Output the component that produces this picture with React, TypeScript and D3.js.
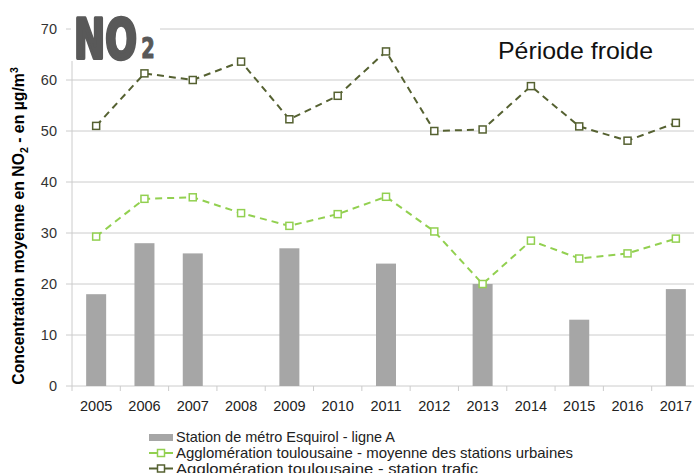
import React from "react";
import * as d3 from "d3";

const years = ["2005","2006","2007","2008","2009","2010","2011","2012","2013","2014","2015","2016","2017"];
const metroValues: (number | null)[] = [18, 28, 26, null, 27, null, 24, null, 20, null, 13, null, 19];
const urbanValues = [29.3, 36.7, 37, 33.9, 31.4, 33.7, 37.1, 30.3, 20, 28.5, 25, 26, 28.9];
const trafficValues = [51, 61.3, 60, 63.6, 52.3, 56.9, 65.6, 50, 50.3, 58.8, 50.9, 48.1, 51.6];
const yTicks = [0, 10, 20, 30, 40, 50, 60, 70];
const legendLabels = [
  "Station de métro Esquirol - ligne A",
  "Agglomération toulousaine - moyenne des stations urbaines",
  "Agglomération toulousaine - station trafic",
];

const W = 694, H = 473;
const BAR = "#a6a6a6", URBAN = "#92d050", TRAFFIC = "#556131", GRID = "#cccccc";
const FONT = "'Liberation Sans', Arial, sans-serif";
const LOGO_FONT = "'DejaVu Sans Condensed', 'Liberation Sans', sans-serif";

export default function App() {
  const x = d3.scaleBand<string>().domain(years).range([72, 700]).padding(0);
  const y = d3.scaleLinear().domain([0, 70]).range([386, 29]);
  const cx = (d: string) => (x(d) as number) + x.bandwidth() / 2;
  const barW = 20;

  const line = d3.line<number>().x((_, i) => cx(years[i])).y((v) => y(v));

  const marker = (px: number, py: number, color: string, key: string) => (
    <rect key={key} x={px - 3.5} y={py - 3.5} width={7} height={7} fill="#fff" stroke={color} strokeWidth={1.5} />
  );

  return (
    <svg width={W} height={H} style={{ position: "absolute", left: 0, top: 0, background: "#fff" }} fontFamily={FONT}>
      <rect x={0} y={0} width={W} height={H} fill="#fff" />
      {/* gridlines */}
      {yTicks.map((t) => (
        <g key={t}>
          {t > 0 && <line x1={66} x2={W} y1={y(t)} y2={y(t)} stroke={GRID} strokeWidth={1} />}
          <text x={57} y={y(t)} dy="0.35em" textAnchor="end" fontSize={14.5} fill="#333">{t}</text>
        </g>
      ))}
      {/* axes */}
      <line x1={72} x2={72} y1={29} y2={386} stroke={GRID} />
      <line x1={66} x2={W} y1={386} y2={386} stroke={GRID} />
      {years.map((yr) => (
        <line key={"t" + yr} x1={x(yr) as number} x2={x(yr) as number} y1={386} y2={391} stroke={GRID} />
      ))}
      <line x1={700} x2={700} y1={386} y2={391} stroke={GRID} />
      {years.map((yr) => (
        <text key={"l" + yr} x={cx(yr)} y={411} textAnchor="middle" fontSize={14.5} fill="#222">{yr}</text>
      ))}
      {/* bars */}
      {metroValues.map((v, i) =>
        v == null ? null : (
          <rect key={"b" + i} x={cx(years[i]) - barW / 2} y={y(v)} width={barW} height={y(0) - y(v)} fill={BAR} />
        )
      )}
      {/* lines */}
      <path d={line(urbanValues) || ""} fill="none" stroke={URBAN} strokeWidth={2} strokeDasharray="7,5" />
      <path d={line(trafficValues) || ""} fill="none" stroke={TRAFFIC} strokeWidth={2} strokeDasharray="7,5" />
      {urbanValues.map((v, i) => marker(cx(years[i]), y(v), URBAN, "u" + i))}
      {trafficValues.map((v, i) => marker(cx(years[i]), y(v), TRAFFIC, "t" + i))}

      {/* NO2 logo */}
      <rect x={71} y={14} width={89} height={47} fill="#fff" />
      <text transform="translate(74,57.5) scale(0.74,1)" fontSize={56} fontWeight={900} fill="#595959"
        stroke="#595959" strokeWidth={3.5} strokeLinejoin="round" fontFamily={LOGO_FONT}>
        NO<tspan fontSize={29} dx={6} strokeWidth={1.2}>2</tspan>
      </text>

      {/* Période froide */}
      <text x={498} y={59} fontSize={24} fill="#111" textLength={155} lengthAdjust="spacingAndGlyphs">Période froide</text>

      {/* y axis title */}
      <text transform="translate(24,226) rotate(-90)" textAnchor="middle" fontSize={15.8} fontWeight={700} fill="#000">
        Concentration moyenne en NO<tspan fontSize={10.5} dy={3.5}>2</tspan><tspan dy={-3.5}> - en µg/m</tspan><tspan fontSize={10.5} dy={-6}>3</tspan>
      </text>

      {/* legend */}
      <g fontSize={14.5} fill="#222">
        <rect x={149} y={434} width={24} height={7} fill={BAR} />
        <text x={176} y={442} textLength={219} lengthAdjust="spacingAndGlyphs">{legendLabels[0]}</text>
        <line x1={149} x2={173} y1={453} y2={453} stroke={URBAN} strokeWidth={2} />
        <rect x={157.5} y={449.5} width={7} height={7} fill="#fff" stroke={URBAN} strokeWidth={1.5} />
        <text x={176} y={458} textLength={397} lengthAdjust="spacingAndGlyphs">{legendLabels[1]}</text>
        <line x1={149} x2={173} y1={468.5} y2={468.5} stroke={TRAFFIC} strokeWidth={2} />
        <rect x={157.5} y={465} width={7} height={7} fill="#fff" stroke={TRAFFIC} strokeWidth={1.5} />
        <text x={176} y={474} textLength={302} lengthAdjust="spacingAndGlyphs">{legendLabels[2]}</text>
      </g>
    </svg>
  );
}
